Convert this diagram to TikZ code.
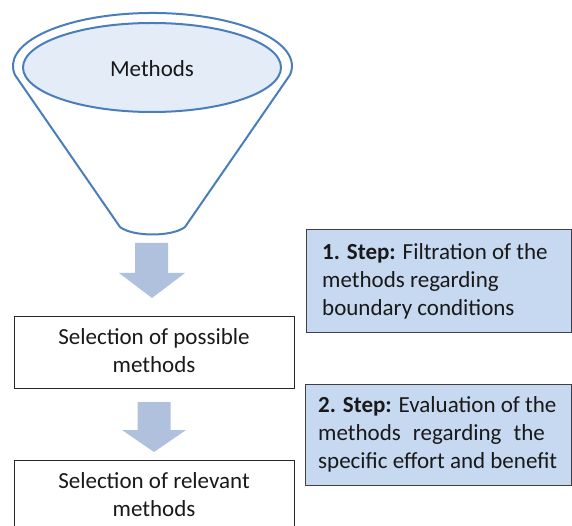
\documentclass[tikz,border=0pt]{standalone}
\usepackage{fontspec}
\setmainfont{Carlito}
\definecolor{funnelblue}{HTML}{4A7EBB}
\definecolor{innerfill}{HTML}{E4ECF7}
\definecolor{stepfill}{HTML}{C6D9F1}
\definecolor{arrowfill}{HTML}{AFC1DD}
\begin{document}
\begin{tikzpicture}[x=1pt,y=1pt,
  funnelline/.style={draw=funnelblue,line width=2pt,line join=round},
  whitebox/.style={draw=black!85,line width=1pt,fill=white},
  stepbox/.style={draw=black!75,line width=1pt,fill=stepfill},
  blockarrow/.style={fill=arrowfill,draw=none},
  txt/.style={font=\fontsize{23}{28}\selectfont,inner sep=0pt,text=black!90}]
\clip (0,0) rectangle (572,-526);
\fill[white] (0,0) rectangle (572,-526);
% funnel
\draw[funnelline,fill=white] (120,-227) -- (15,-75)
  arc[start angle=189.8,end angle=-9.8,x radius=139.5,y radius=53]
  -- (185,-227) .. controls (172,-237) and (133,-237) .. (120,-227) -- cycle;
\draw[funnelline,fill=innerfill] (152,-67.5) ellipse[x radius=129,y radius=44.5];
\node[txt] (methods) at (152,-69) {Methods};
% left boxes
\path[whitebox] (14,-316) rectangle (294,-388);
\node[txt,align=center] (possible) at (154,-351) {Selection of possible\\methods};
\path[whitebox] (14,-460) rectangle (294,-540);
\node[txt,align=center] (relevant) at (154,-495) {Selection of relevant\\methods};
% block arrows
\coordinate (a1) at (152,-243);
\fill[blockarrow] (135,-243) -- (168,-243) -- (168,-273) -- (185,-273) -- (152,-298) -- (119,-273) -- (135,-273) -- cycle;
\fill[blockarrow] (137.5,-402) -- (170.5,-402) -- (170.5,-430) -- (186,-430) -- (154,-452) -- (122,-430) -- (137.5,-430) -- cycle;
% step boxes
\path[stepbox] (306,-230) rectangle (571.5,-332);
\node[txt,align=left,anchor=west] (step1) at (322,-281) {\textbf{1. Step:} Filtration of the\\methods regarding\\boundary conditions};
\path[stepbox] (305,-384) rectangle (571.5,-485);
\node[txt,align=left,anchor=west] (step2) at (318,-434.5) {\textbf{2. Step:} Evaluation of the\\methods\hspace{0.3em} regarding\hspace{0.3em} the\\specific effort and benefit};
\end{tikzpicture}
\end{document}
